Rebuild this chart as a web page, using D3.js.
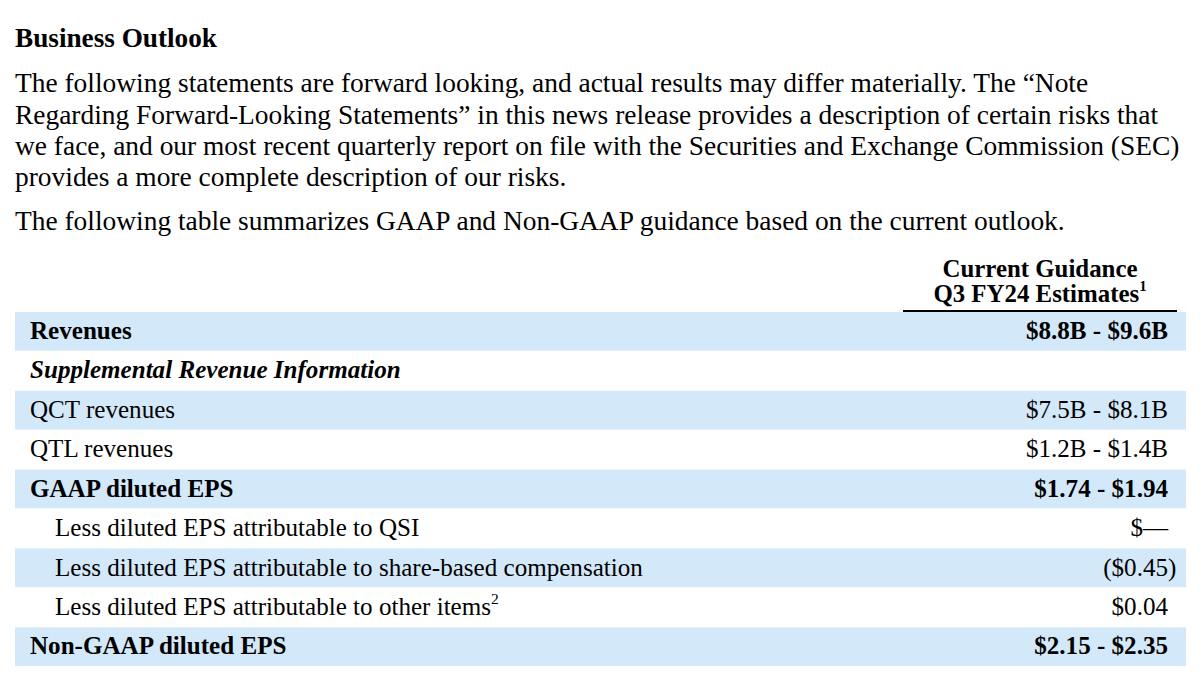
<!DOCTYPE html>
<html>
<head>
<meta charset="utf-8">
<script src="https://cdn.jsdelivr.net/npm/d3@7"></script>
<style>
  html, body { margin: 0; padding: 0; background: #fff; }
  svg { display: block; }
</style>
</head>
<body>
<svg id="chart" width="1200" height="677"></svg>
<script>
// ---- data ----
const title = "Business Outlook";
const paragraphLines = [
  "The following statements are forward looking, and actual results may differ materially. The \u201CNote",
  "Regarding Forward-Looking Statements\u201D in this news release provides a description of certain risks that",
  "we face, and our most recent quarterly report on file with the Securities and Exchange Commission (SEC)",
  "provides a more complete description of our risks."
];
const introLine = "The following table summarizes GAAP and Non-GAAP guidance based on the current outlook.";
const headerLines = ["Current Guidance", "Q3 FY24 Estimates"];
const headerNote = "1";
const rowLabels = [
  "Revenues",
  "Supplemental Revenue Information",
  "QCT revenues",
  "QTL revenues",
  "GAAP diluted EPS",
  "Less diluted EPS attributable to QSI",
  "Less diluted EPS attributable to share-based compensation",
  "Less diluted EPS attributable to other items",
  "Non-GAAP diluted EPS"
];
const rowNotes = ["", "", "", "", "", "", "", "2", ""];
const rowLevels = ["total", "section", "item", "item", "total", "sub", "sub", "sub", "total"];
const rowValues = [
  "$8.8B - $9.6B",
  "",
  "$7.5B - $8.1B",
  "$1.2B - $1.4B",
  "$1.74 - $1.94",
  "$\u2014",
  "($0.45)",
  "$0.04",
  "$2.15 - $2.35"
];

// ---- drawing ----
const svg = d3.select("#chart");
const FONT = "'Liberation Serif', 'Times New Roman', Times, serif";
const BAND = "#d3e8f9";
const left = 15, right = 1186;

function fitSize(text, weight, style, targetWidth) {
  const t = svg.append("text").attr("font-family", FONT).attr("font-size", 100)
    .attr("font-weight", weight).attr("font-style", style).text(text);
  const w = t.node().getComputedTextLength();
  t.remove();
  return 100 * targetWidth / w;
}

const titleSize = fitSize(title, "bold", "normal", 202);
const paraSize = fitSize(paragraphLines[2], "normal", "normal", 1165);
const rowSize = fitSize(rowLabels[6], "normal", "normal", 588);
const headSize = fitSize(headerLines[0], "bold", "normal", 195);

svg.append("text").attr("x", left).attr("y", 46.5)
  .attr("font-family", FONT).attr("font-weight", "bold").attr("font-size", titleSize)
  .attr("fill", "#000").text(title);

const yPara = d3.scalePoint().domain(d3.range(paragraphLines.length)).range([92.3, 186]);
svg.append("g").selectAll("text").data(paragraphLines).join("text")
  .attr("x", left).attr("y", (d, i) => yPara(i))
  .attr("font-family", FONT).attr("font-size", paraSize).attr("fill", "#000")
  .text(d => d);

svg.append("text").attr("x", left).attr("y", 230)
  .attr("font-family", FONT).attr("font-size", paraSize).attr("fill", "#000")
  .text(introLine);

// Table
const y = d3.scaleBand().domain(d3.range(rowLabels.length)).range([312, 666]).paddingInner(0.02).paddingOuter(0);

const rows = svg.append("g").selectAll("g")
  .data(rowLabels.map((label, i) => ({ i, label, note: rowNotes[i], level: rowLevels[i], value: rowValues[i] })))
  .join("g")
  .attr("transform", d => `translate(0,${y(d.i)})`);

rows.filter(d => d.i % 2 === 0).append("rect")
  .attr("x", left).attr("width", right - left)
  .attr("height", y.bandwidth()).attr("fill", BAND);

const labelX = { total: 30, section: 30, item: 30, sub: 55 };
const labelW = { total: "bold", section: "bold", item: "normal", sub: "normal" };
const labelS = { total: "normal", section: "italic", item: "normal", sub: "normal" };

const base = y.bandwidth() * 0.7;

const lbl = rows.append("text")
  .attr("x", d => labelX[d.level])
  .attr("y", base)
  .attr("font-family", FONT).attr("font-size", rowSize)
  .attr("font-weight", d => labelW[d.level])
  .attr("font-style", d => labelS[d.level])
  .attr("fill", "#000");
lbl.append("tspan").text(d => d.label);
lbl.filter(d => d.note !== "").append("tspan")
  .attr("font-size", rowSize * 0.62).attr("dy", -rowSize * 0.42)
  .text(d => d.note);

const valX = 1168;
rows.each(function (d) {
  const v = d.value;
  if (!v) return;
  const g = d3.select(this);
  const bold = d.level === "total" ? "bold" : "normal";
  const hang = v.endsWith(")");
  g.append("text").attr("x", valX).attr("y", base).attr("text-anchor", "end")
    .attr("font-family", FONT).attr("font-size", rowSize).attr("font-weight", bold)
    .attr("fill", "#000").text(hang ? v.slice(0, -1) : v);
  if (hang) {
    g.append("text").attr("x", valX).attr("y", base)
      .attr("font-family", FONT).attr("font-size", rowSize).attr("font-weight", bold)
      .attr("fill", "#000").text(")");
  }
});

// Header
const headCx = 1040;
svg.append("text").attr("x", headCx).attr("y", 276.7).attr("text-anchor", "middle")
  .attr("font-family", FONT).attr("font-weight", "bold").attr("font-size", headSize)
  .attr("fill", "#000").text(headerLines[0]);
const h2 = svg.append("text").attr("x", headCx).attr("y", 301.5).attr("text-anchor", "middle")
  .attr("font-family", FONT).attr("font-weight", "bold").attr("font-size", headSize)
  .attr("fill", "#000");
h2.append("tspan").text(headerLines[1]);
h2.append("tspan").attr("font-size", headSize * 0.6).attr("dy", -headSize * 0.42).text(headerNote);

svg.append("line").attr("x1", 903).attr("x2", 1177).attr("y1", 311).attr("y2", 311)
  .attr("stroke", "#000").attr("stroke-width", 2);
</script>
</body>
</html>
